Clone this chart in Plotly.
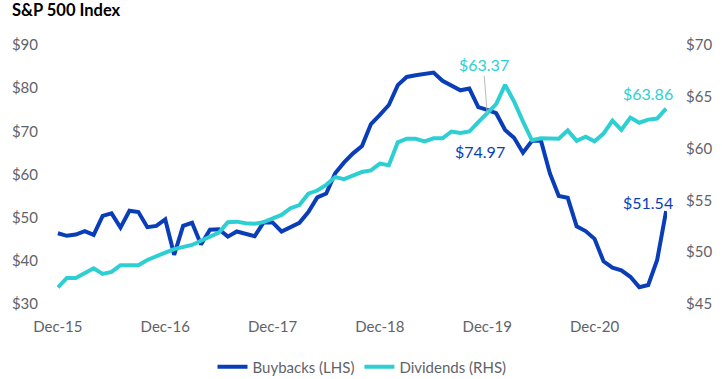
import plotly.graph_objects as go

months = ["Dec-15","Jan-16","Feb-16","Mar-16","Apr-16","May-16","Jun-16","Jul-16","Aug-16","Sep-16","Oct-16","Nov-16",
          "Dec-16","Jan-17","Feb-17","Mar-17","Apr-17","May-17","Jun-17","Jul-17","Aug-17","Sep-17","Oct-17","Nov-17",
          "Dec-17","Jan-18","Feb-18","Mar-18","Apr-18","May-18","Jun-18","Jul-18","Aug-18","Sep-18","Oct-18","Nov-18",
          "Dec-18","Jan-19","Feb-19","Mar-19","Apr-19","May-19","Jun-19","Jul-19","Aug-19","Sep-19","Oct-19","Nov-19",
          "Dec-19","Jan-20","Feb-20","Mar-20","Apr-20","May-20","Jun-20","Jul-20","Aug-20","Sep-20","Oct-20","Nov-20",
          "Dec-20","Jan-21","Feb-21","Mar-21","Apr-21","May-21","Jun-21","Jul-21","Aug-21"]

buybacks = [46.4, 45.8, 46.1, 46.9, 46.0, 50.4, 51.0, 47.7, 51.6, 51.3, 47.8, 48.1,
            49.6, 41.4, 48.1, 48.8, 43.8, 47.2, 47.3, 45.6, 46.8, 46.3, 45.7, 48.9,
            48.9, 46.8, 47.9, 48.8, 51.3, 54.7, 55.6, 60.3, 62.8, 64.9, 66.6, 71.7,
            73.8, 76.1, 80.7, 82.6, 83.0, 83.4, 83.6, 81.7, 80.5, 79.5, 79.9, 75.6,
            74.97, 74.2, 70.3, 68.5, 65.05, 67.8, 67.9, 60.3, 55.0, 54.6, 48.0, 46.9,
            45.1, 39.9, 38.4, 37.8, 36.3, 33.9, 34.4, 40.2, 51.54]

dividends = [46.6, 47.5, 47.5, 48.0, 48.45, 47.9, 48.1, 48.75, 48.75, 48.75, 49.25, 49.65,
             49.95, 50.3, 50.5, 50.7, 51.1, 51.5, 51.9, 52.9, 52.95, 52.8, 52.75, 52.9,
             53.25, 53.6, 54.25, 54.55, 55.65, 55.95, 56.5, 57.25, 57.05, 57.45, 57.75, 57.9,
             58.55, 58.4, 60.6, 60.95, 60.95, 60.7, 61.0, 61.0, 61.65, 61.5, 61.65, 62.55,
             63.37, 64.3, 66.15, 64.55, 62.6, 60.8, 61.0, 61.0, 60.95, 61.75, 60.75, 61.15,
             60.7, 61.45, 62.7, 61.8, 63.0, 62.5, 62.8, 62.9, 63.86]

tick_labels = ["Dec-15", "Dec-16", "Dec-17", "Dec-18", "Dec-19", "Dec-20"]
left_ticks = [30, 40, 50, 60, 70, 80, 90]
right_ticks = [45, 50, 55, 60, 65, 70]

BLUE = "#0a3db8"
CYAN = "#2ecfd3"
GRAY = "#5f6368"
FONT = "Lato"

x = list(range(len(months)))
tick_pos = [months.index(t) for t in tick_labels]

fig = go.Figure()
fig.add_trace(go.Scatter(x=x, y=buybacks, mode="lines", name="Buybacks (LHS)",
                         line=dict(color=BLUE, width=4), yaxis="y"))
fig.add_trace(go.Scatter(x=x, y=dividends, mode="lines", name="Dividends (RHS)",
                         line=dict(color=CYAN, width=4), yaxis="y2"))

i_mid = months.index("Dec-19")
i_end = len(months) - 1
fig.add_annotation(x=i_mid, y=dividends[i_mid], yref="y2", text=f"${dividends[i_mid]:.2f}",
                   showarrow=True, arrowhead=0, arrowwidth=1, arrowcolor="#bbbbbb",
                   ax=-3, ay=-38, font=dict(color=CYAN, size=16, family=FONT), yanchor="bottom")
fig.add_annotation(x=i_mid, y=buybacks[i_mid], yref="y", text=f"${buybacks[i_mid]:.2f}",
                   showarrow=False, xshift=-7, yshift=-42, font=dict(color=BLUE, size=16, family=FONT))
fig.add_annotation(x=i_end, y=dividends[i_end], yref="y2", text=f"${dividends[i_end]:.2f}",
                   showarrow=False, xshift=-18, yshift=15, font=dict(color=CYAN, size=16, family=FONT))
fig.add_annotation(x=i_end, y=buybacks[i_end], yref="y", text=f"${buybacks[i_end]:.2f}",
                   showarrow=False, xshift=-18, yshift=9, font=dict(color=BLUE, size=16, family=FONT))

fig.update_layout(
    width=722, height=379,
    margin=dict(l=57, r=55, t=45, b=75, autoexpand=False),
    plot_bgcolor="white", paper_bgcolor="white",
    font=dict(family=FONT, color=GRAY, size=15),
    title=dict(text="<b>S&P 500 Index</b>", x=12/722, xanchor="left", y=1-4/379, yanchor="top",
               font=dict(family=FONT, size=16.5, color="#000000")),
    xaxis=dict(range=[-0.1, len(months) - 0.9], tickvals=tick_pos, ticktext=tick_labels,
               showgrid=False, zeroline=False, showline=False, automargin=False,
               ticks="outside", ticklen=9, tickcolor="rgba(0,0,0,0)"),
    yaxis=dict(range=[30, 90], tickvals=left_ticks, ticktext=[f"${v}" for v in left_ticks],
               showgrid=False, zeroline=False, showline=False, automargin=False,
               ticks="outside", ticklen=15, tickcolor="rgba(0,0,0,0)"),
    yaxis2=dict(range=[45, 70], tickvals=right_ticks, ticktext=[f"${v}" for v in right_ticks],
                overlaying="y", side="right", automargin=False,
                showgrid=False, zeroline=False, showline=False,
                ticks="outside", ticklen=15, tickcolor="rgba(0,0,0,0)"),
    legend=dict(orientation="h", x=0.5, xanchor="center", y=-0.243, yanchor="middle",
                font=dict(size=15, color=GRAY, family=FONT)),
    showlegend=True,
)

fig.write_html("out.html", config={"displayModeBar": False},
               post_script="document.body.style.margin='0px';document.body.style.overflow='hidden';")
